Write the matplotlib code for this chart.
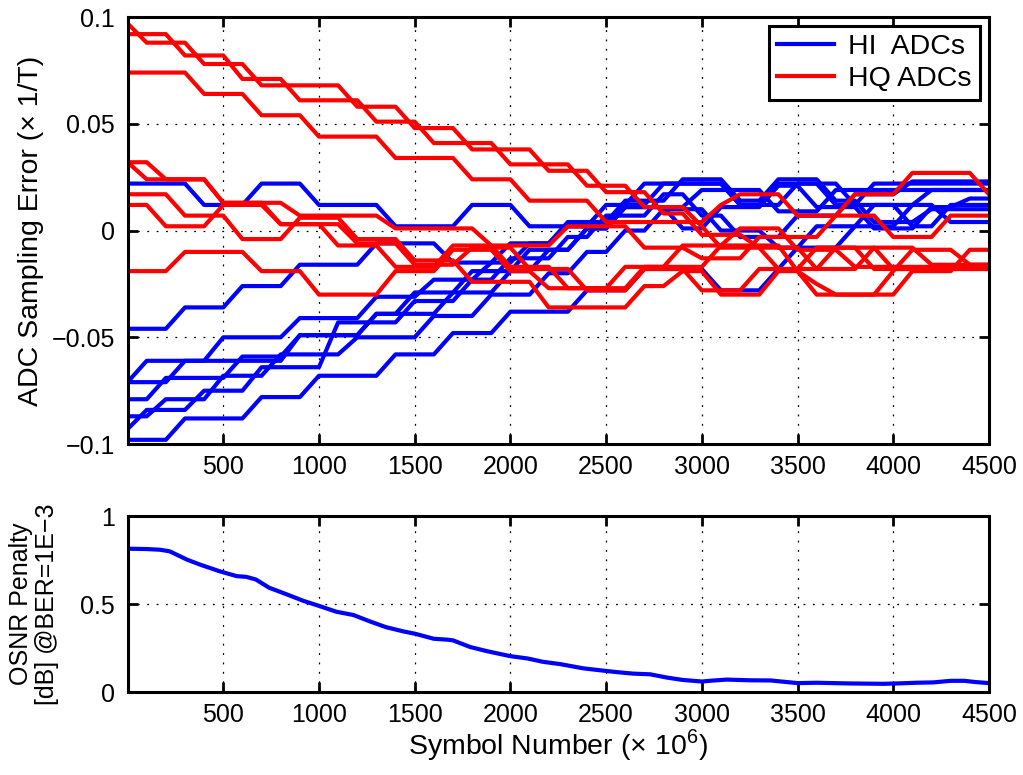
import numpy as np
import matplotlib
matplotlib.use('Agg')
import matplotlib.pyplot as plt
from matplotlib.ticker import FuncFormatter

plt.rcParams['font.family'] = ['Liberation Sans', 'DejaVu Sans']
plt.rcParams['mathtext.fontset'] = 'custom'
plt.rcParams['mathtext.rm'] = 'Liberation Sans'
plt.rcParams['axes.unicode_minus'] = True

# symbol index of each tracking update (x 10^6 symbols)
symbols = np.arange(0, 4600, 100)

# sampling error of the in-phase ADCs (x 1/T)
hi_adc_1 = [0.022, 0.022, 0.022, 0.022, 0.012, 0.012, 0.012, 0.022, 0.022, 0.022,
            0.012, 0.012, 0.012, 0.012, 0.002, 0.002, 0.002, 0.002, 0.012, 0.012,
            0.012, 0.002, 0.002, 0.002, 0.002, 0.002, 0.012, 0.022, 0.022, 0.022,
            0.022, 0.022, 0.012, 0.012, 0.022, 0.022, 0.022, 0.012, 0.012, 0.022,
            0.022, 0.022, 0.022, 0.022, 0.022, 0.022]
hi_adc_2 = [-0.046, -0.046, -0.046, -0.036, -0.036, -0.036, -0.026, -0.026, -0.026, -0.016,
            -0.016, -0.016, -0.016, -0.006, -0.006, -0.006, -0.006, -0.015, -0.015, -0.015,
            -0.006, -0.006, -0.006, 0.004, 0.004, 0.004, 0.014, 0.014, 0.014, 0.024,
            0.024, 0.024, 0.014, 0.014, 0.024, 0.024, 0.024, 0.014, 0.014, 0.004,
            0.004, 0.004, 0.010, 0.010, 0.010, 0.010]
hi_adc_3 = [-0.071, -0.061, -0.061, -0.061, -0.061, -0.050, -0.050, -0.050, -0.050, -0.041,
            -0.041, -0.041, -0.041, -0.031, -0.031, -0.031, -0.023, -0.023, -0.023, -0.015,
            -0.015, -0.006, -0.006, 0.002, 0.002, 0.012, 0.012, 0.012, 0.022, 0.022,
            0.022, 0.022, 0.012, 0.012, 0.012, 0.022, 0.022, 0.022, 0.012, 0.012,
            0.012, 0.002, 0.002, 0.012, 0.012, 0.012]
hi_adc_4 = [-0.071, -0.071, -0.071, -0.061, -0.061, -0.061, -0.061, -0.061, -0.061, -0.049,
            -0.049, -0.049, -0.049, -0.039, -0.039, -0.039, -0.039, -0.029, -0.029, -0.029,
            -0.019, -0.019, -0.009, -0.009, 0.001, 0.001, 0.011, 0.011, 0.011, 0.011,
            0.019, 0.019, 0.019, 0.019, 0.009, 0.009, 0.009, 0.019, 0.019, 0.019,
            0.019, 0.019, 0.019, 0.019, 0.019, 0.019]
hi_adc_5 = [-0.079, -0.079, -0.069, -0.069, -0.069, -0.069, -0.059, -0.059, -0.059, -0.049,
            -0.049, -0.049, -0.049, -0.039, -0.039, -0.029, -0.029, -0.029, -0.019, -0.019,
            -0.019, -0.009, -0.009, -0.009, 0.001, 0.001, 0.011, 0.011, 0.011, 0.001,
            0.001, 0.011, 0.011, 0.011, 0.021, 0.021, 0.011, 0.011, 0.011, 0.001,
            0.001, 0.001, 0.011, 0.011, 0.015, 0.015]
hi_adc_6 = [-0.087, -0.087, -0.079, -0.079, -0.079, -0.068, -0.068, -0.068, -0.058, -0.058,
            -0.058, -0.058, -0.050, -0.050, -0.050, -0.050, -0.040, -0.040, -0.040, -0.030,
            -0.030, -0.030, -0.020, -0.020, -0.010, -0.010, 0.000, 0.000, 0.010, 0.010,
            0.010, 0.000, 0.000, 0.000, -0.008, -0.008, 0.002, 0.002, 0.002, 0.012,
            0.012, 0.012, 0.019, 0.019, 0.019, 0.019]
hi_adc_7 = [-0.093, -0.084, -0.084, -0.084, -0.075, -0.075, -0.075, -0.064, -0.064, -0.064,
            -0.064, -0.043, -0.043, -0.043, -0.043, -0.033, -0.033, -0.033, -0.023, -0.023,
            -0.013, -0.013, -0.013, -0.003, -0.003, 0.007, 0.007, 0.007, 0.017, 0.017,
            0.007, 0.007, -0.003, -0.003, -0.003, 0.007, 0.007, 0.007, 0.017, 0.017,
            0.017, 0.023, 0.023, 0.023, 0.023, 0.023]
hi_adc_8 = [-0.098, -0.098, -0.098, -0.088, -0.088, -0.088, -0.088, -0.078, -0.078, -0.078,
            -0.068, -0.068, -0.068, -0.068, -0.058, -0.058, -0.058, -0.048, -0.048, -0.048,
            -0.038, -0.038, -0.038, -0.038, -0.028, -0.028, -0.028, -0.018, -0.018, -0.018,
            -0.018, -0.028, -0.028, -0.028, -0.018, -0.008, -0.008, -0.008, 0.002, 0.002,
            0.002, 0.012, 0.012, 0.004, 0.004, 0.004]

# sampling error of the quadrature ADCs (x 1/T)
hq_adc_1 = [0.097, 0.088, 0.088, 0.088, 0.078, 0.078, 0.078, 0.068, 0.068, 0.068,
            0.068, 0.068, 0.058, 0.058, 0.058, 0.048, 0.048, 0.048, 0.038, 0.038,
            0.038, 0.038, 0.028, 0.028, 0.028, 0.018, 0.018, 0.018, 0.008, 0.008,
            -0.002, -0.002, -0.002, -0.008, -0.008, -0.008, -0.018, -0.018, -0.018, -0.008,
            -0.008, -0.008, -0.016, -0.016, -0.016, -0.016]
hq_adc_2 = [0.092, 0.092, 0.092, 0.082, 0.082, 0.082, 0.071, 0.071, 0.071, 0.061,
            0.061, 0.061, 0.061, 0.051, 0.051, 0.051, 0.041, 0.041, 0.041, 0.041,
            0.031, 0.031, 0.031, 0.031, 0.021, 0.021, 0.021, 0.011, 0.011, 0.011,
            0.002, -0.008, -0.008, -0.008, -0.018, -0.018, -0.018, -0.008, -0.008, -0.008,
            -0.018, -0.018, -0.018, -0.018, -0.018, -0.018]
hq_adc_3 = [0.074, 0.074, 0.074, 0.074, 0.064, 0.064, 0.064, 0.054, 0.054, 0.054,
            0.044, 0.044, 0.044, 0.044, 0.034, 0.034, 0.034, 0.034, 0.024, 0.024,
            0.024, 0.014, 0.014, 0.014, 0.014, 0.004, 0.004, 0.004, 0.004, 0.004,
            0.004, 0.012, 0.017, 0.017, 0.017, 0.007, 0.007, 0.007, 0.007, 0.007,
            -0.003, -0.003, -0.003, 0.007, 0.007, 0.007]
hq_adc_4 = [0.032, 0.024, 0.024, 0.024, 0.024, 0.013, 0.013, 0.013, 0.003, 0.003,
            0.003, 0.003, -0.006, -0.006, -0.006, -0.016, -0.016, -0.016, -0.008, -0.008,
            -0.008, -0.018, -0.018, -0.018, -0.028, -0.028, -0.028, -0.018, -0.018, -0.018,
            -0.028, -0.028, -0.028, -0.018, -0.018, -0.018, -0.008, -0.008, -0.008, -0.018,
            -0.018, -0.018, -0.018, -0.018, -0.018, -0.018]
hq_adc_5 = [0.032, 0.032, 0.024, 0.024, 0.024, 0.013, 0.013, 0.013, 0.013, 0.007,
            0.007, 0.007, 0.007, 0.007, 0.001, 0.001, 0.001, 0.001, 0.001, -0.007,
            -0.007, -0.007, -0.007, 0.002, 0.002, 0.002, 0.002, -0.008, -0.008, -0.008,
            -0.013, -0.013, -0.013, -0.003, -0.003, -0.003, -0.003, 0.007, 0.017, 0.017,
            0.017, 0.027, 0.027, 0.027, 0.027, 0.017]
hq_adc_6 = [0.017, 0.017, 0.017, 0.007, 0.007, 0.007, -0.004, -0.004, -0.004, 0.006,
            0.006, 0.006, -0.004, -0.004, -0.004, -0.014, -0.014, -0.014, -0.024, -0.024,
            -0.024, -0.024, -0.036, -0.036, -0.036, -0.036, -0.036, -0.026, -0.026, -0.019,
            -0.019, -0.030, -0.030, -0.030, -0.019, -0.019, -0.025, -0.030, -0.030, -0.030,
            -0.030, -0.019, -0.019, -0.019, -0.009, -0.009]
hq_adc_7 = [0.012, 0.012, 0.002, 0.002, 0.002, 0.012, 0.012, 0.012, 0.003, 0.003,
            0.003, -0.007, -0.007, -0.007, -0.017, -0.017, -0.017, -0.007, -0.007, -0.007,
            -0.017, -0.017, -0.017, -0.027, -0.027, -0.027, -0.017, -0.017, -0.017, -0.007,
            -0.007, -0.007, 0.001, 0.001, 0.001, -0.009, -0.009, -0.009, -0.017, -0.017,
            -0.017, -0.017, -0.017, -0.017, -0.017, -0.017]
hq_adc_8 = [-0.019, -0.019, -0.019, -0.010, -0.010, -0.010, -0.010, -0.019, -0.019, -0.019,
            -0.030, -0.030, -0.030, -0.030, -0.019, -0.019, -0.019, -0.009, -0.009, -0.009,
            -0.019, -0.019, -0.027, -0.027, -0.027, -0.027, -0.027, -0.017, -0.017, -0.017,
            -0.017, -0.007, -0.007, -0.007, -0.007, -0.019, -0.030, -0.030, -0.030, -0.030,
            -0.019, -0.009, -0.009, -0.009, -0.016, -0.016]

hi_adcs = [hi_adc_1, hi_adc_2, hi_adc_3, hi_adc_4, hi_adc_5, hi_adc_6, hi_adc_7, hi_adc_8]
hq_adcs = [hq_adc_1, hq_adc_2, hq_adc_3, hq_adc_4, hq_adc_5, hq_adc_6, hq_adc_7, hq_adc_8]

# OSNR penalty at BER = 1E-3 (dB)
osnr_symbols = [0, 100, 170, 220, 310, 380, 480, 570, 620, 670,
                740, 830, 920, 1000, 1090, 1180, 1270, 1350, 1440, 1500,
                1600, 1670, 1700, 1790, 1880, 2000, 2090, 2170, 2260, 2380,
                2500, 2560, 2640, 2730, 2820, 2900, 3000, 3040, 3130, 3250,
                3360, 3500, 3600, 3770, 3950, 4020, 4120, 4210, 4300, 4370,
                4430, 4500]
osnr_penalty = [0.815, 0.813, 0.809, 0.800, 0.753, 0.724, 0.687, 0.659, 0.655, 0.640,
                0.593, 0.556, 0.518, 0.490, 0.457, 0.438, 0.400, 0.369, 0.345, 0.332,
                0.303, 0.298, 0.294, 0.256, 0.232, 0.204, 0.191, 0.172, 0.159, 0.135,
                0.120, 0.113, 0.105, 0.101, 0.082, 0.069, 0.060, 0.064, 0.071, 0.067,
                0.066, 0.051, 0.053, 0.049, 0.047, 0.049, 0.053, 0.055, 0.064, 0.064,
                0.057, 0.051]

xticks = [500, 1000, 1500, 2000, 2500, 3000, 3500, 4000, 4500]
LW = 3.0
TICK_FS = 18
LABEL_FS = 20.5


def matlab_fmt(v, pos):
    return '{:g}'.format(round(v, 6)).replace('-', '\u2212')


def style_axes(ax):
    for sp in ax.spines.values():
        sp.set_linewidth(2.2)
    ax.tick_params(direction='in', top=True, right=True, length=7, width=2,
                   labelsize=TICK_FS)
    ax.tick_params(axis='y', pad=9)
    ax.tick_params(axis='x', pad=8)
    ax.grid(True, color='black', linewidth=0.9, linestyle=(0, (1.5, 6)))
    ax.set_xlim(0, 4500)
    ax.set_xticks(xticks)
    ax.yaxis.set_major_formatter(FuncFormatter(matlab_fmt))


fig = plt.figure(figsize=(10.23, 7.75), dpi=100)
ax1 = fig.add_axes([0.1247, 0.427, 0.842, 0.551])
ax2 = fig.add_axes([0.1247, 0.107, 0.842, 0.227])

for i, vals in enumerate(hi_adcs):
    ax1.plot(symbols, vals, color='#0000ff', linewidth=LW,
             label='HI  ADCs' if i == 0 else None)
for i, vals in enumerate(hq_adcs):
    ax1.plot(symbols, vals, color='#ff0000', linewidth=LW,
             label='HQ ADCs' if i == 0 else None)

style_axes(ax1)
ax1.set_ylim(-0.1, 0.1)
ax1.set_yticks([-0.1, -0.05, 0, 0.05, 0.1])
ax1.set_ylabel('ADC Sampling Error (\u00d7 1/T)', fontsize=LABEL_FS)
ax1.yaxis.set_label_coords(-0.097, 0.5)

leg = ax1.legend(loc='upper right', fontsize=LABEL_FS, fancybox=False,
                 edgecolor='black', framealpha=1, handlelength=2.0,
                 handletextpad=0.5, borderpad=0.3, labelspacing=0.2,
                 borderaxespad=0.3)
leg.get_frame().set_linewidth(2.2)

ax2.plot(osnr_symbols, osnr_penalty, color='#0000ff', linewidth=LW)
style_axes(ax2)
ax2.set_ylim(0, 1)
ax2.set_yticks([0, 0.5, 1])
ax2.set_ylabel('OSNR Penalty\n[dB] @BER=1E\u22123', fontsize=18,
               linespacing=1.1)
ax2.yaxis.set_label_coords(-0.08, 0.5)
ax2.set_xlabel('Symbol Number (\u00d7 10$^{6}$)', fontsize=LABEL_FS)
ax2.xaxis.set_label_coords(0.5, -0.2)

fig.savefig('out.png', dpi=100)
